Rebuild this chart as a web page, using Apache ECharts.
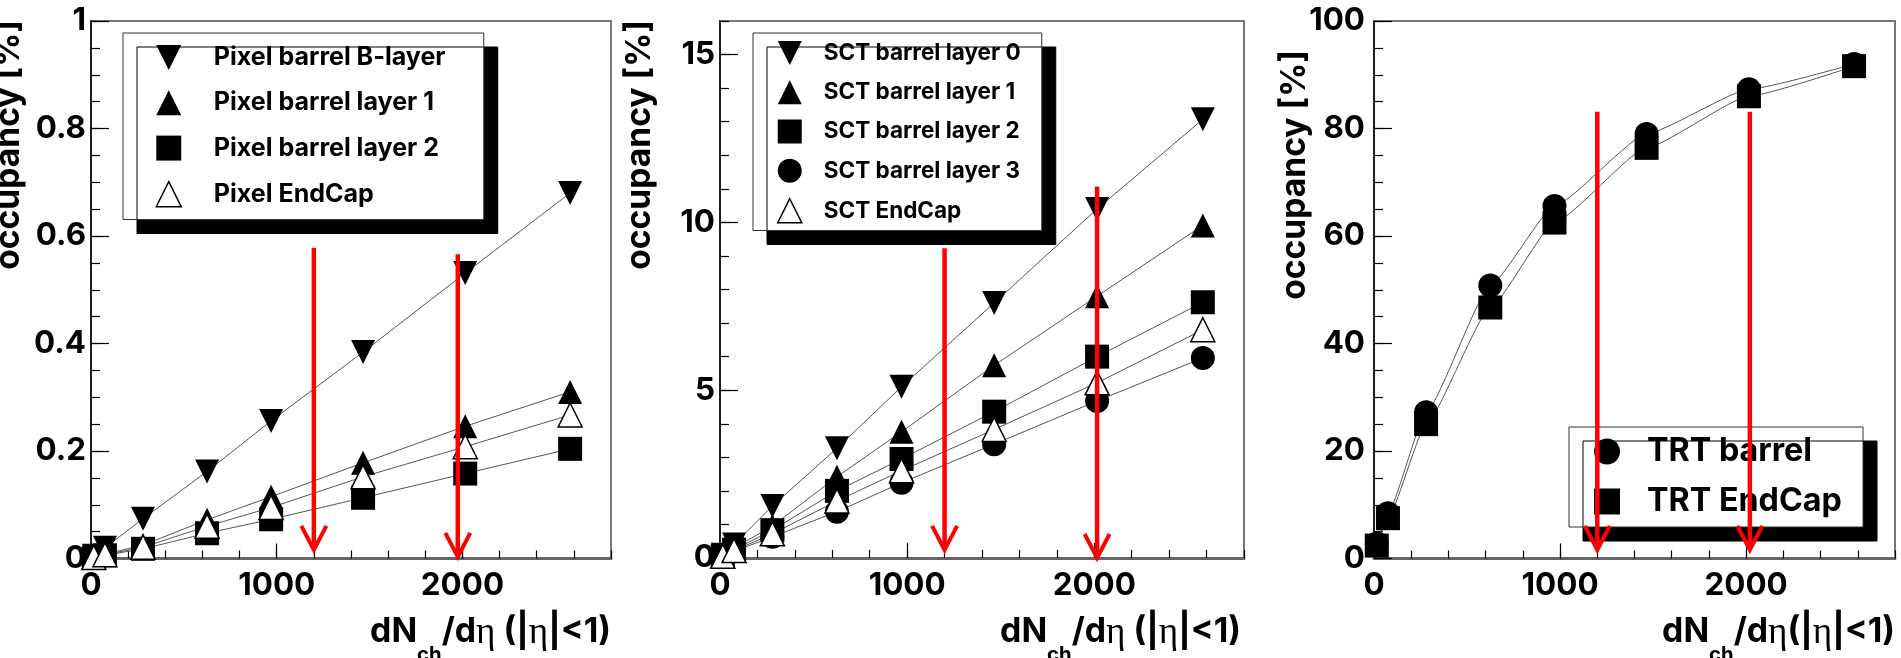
<!DOCTYPE html>
<html>
<head>
<meta charset="utf-8">
<script src="https://cdn.jsdelivr.net/npm/echarts@6/dist/echarts.min.js"></script>
<style>
  html, body { margin: 0; padding: 0; background: #fff; }
  #chart { width: 1901px; height: 658px; }
</style>
</head>
<body>
<div id="chart"></div>
<script>
// Charged-particle multiplicity samples (x positions shared by all detectors)
const dNch = [15, 75, 280, 625, 970, 1465, 2015, 2580];

// Pixel occupancy [%]
const pixelBLayer = [0.005, 0.02, 0.074, 0.162, 0.256, 0.384, 0.531, 0.68];
const pixelLayer1 = [0.002, 0.008, 0.025, 0.072, 0.115, 0.178, 0.246, 0.31];
const pixelLayer2 = [0.001, 0.006, 0.018, 0.047, 0.073, 0.113, 0.158, 0.204];
const pixelEndCap = [0.002, 0.007, 0.021, 0.06, 0.095, 0.152, 0.208, 0.267];

// SCT occupancy [%]
const sctLayer0 = [0.1, 0.4, 1.55, 3.27, 5.1, 7.6, 10.4, 13.07];
const sctLayer1 = [0.07, 0.3, 0.95, 2.42, 3.76, 5.74, 7.8, 9.91];
const sctLayer2 = [0.06, 0.25, 0.83, 2.0, 2.95, 4.36, 6.0, 7.62];
const sctLayer3 = [0.05, 0.2, 0.63, 1.38, 2.24, 3.39, 4.68, 5.96];
const sctEndCap = [0.05, 0.22, 0.72, 1.7, 2.6, 3.83, 5.22, 6.8];

// TRT occupancy [%]
const trtBarrel = [2.8, 8.4, 27.2, 50.8, 65.6, 79.0, 87.3, 92.0];
const trtEndCap = [2.4, 7.5, 25.0, 46.7, 62.5, 76.4, 86.0, 91.6];

// Marker arrows: [dNch/deta, arrow top, arrow tip]
const pixelArrows = [[1200, 0.578, 0.016], [1975, 0.566, 0.003]];
const sctArrows = [[1200, 9.23, 0.24], [2015, 11.07, 0.0]];
const trtArrows = [[1200, 83.1, 1.6], [2020, 83.1, 1.6]];

// Tick labels
const xTicks = [0, 1000, 2000];
const pixelYTicks = [0, 0.2, 0.4, 0.6, 0.8, 1];
const sctYTicks = [0, 5, 10, 15];
const trtYTicks = [0, 20, 40, 60, 80, 100];

const xMax = 2800;
const FONT = 'Inter';
const SERIF = 'Liberation Serif';
const FIT = '#555';
const RED = '#ff0000';

// text measuring, used to size fonts to a given printed width
const measureCtx = document.createElement('canvas').getContext('2d');
function textWidth(text, size, weight, family) {
  measureCtx.font = (weight || 'normal') + ' ' + size + 'px "' + family + '"';
  return measureCtx.measureText(text).width;
}
function fitSize(text, width, weight, family) {
  return 100 * width / textWidth(text, 100, weight, family);
}

const DOWN_TRI = 'path://M0,0L10,0L5,10Z';
const markers = {
  down:   { symbol: 'triangle', rotate: 180, icon: DOWN_TRI, style: { color: '#000' } },
  up:     { symbol: 'triangle', rotate: 0, icon: 'triangle', style: { color: '#000' } },
  square: { symbol: 'rect', rotate: 0, icon: 'rect', style: { color: '#000' } },
  circle: { symbol: 'circle', rotate: 0, icon: 'circle', style: { color: '#000' } },
  open:   { symbol: 'triangle', rotate: 0, icon: 'triangle', style: { color: '#fff', borderColor: '#000', borderWidth: 1.5 } }
};

const panels = [
  {
    grid: { left: 91, top: 21, width: 520, height: 537.5 },
    yMax: 1, yTicks: pixelYTicks, yMinor: 0.05, yLabelMargin: 5, smooth: false,
    arrows: pixelArrows,
    series: [
      { name: 'Pixel barrel B-layer', values: pixelBLayer, marker: 'down' },
      { name: 'Pixel barrel layer 1', values: pixelLayer1, marker: 'up' },
      { name: 'Pixel barrel layer 2', values: pixelLayer2, marker: 'square' },
      { name: 'Pixel EndCap', values: pixelEndCap, marker: 'open' }
    ],
    legend: { box: [123, 33, 483, 222], iconCenter: 168, iconSize: 25, textLeft: 213, textWidth: 232, firstRow: 58, pitch: 46.3 },
    yTitle: { x: 8.5, y: 20 },
    xTitle: { x: 611, text: '{b|dN}{s|ch}{b|/d}{g|η}{b| (|}{g|η}{b||<1)}' }
  },
  {
    grid: { left: 720, top: 21, width: 524, height: 537 },
    yMax: 16, yTicks: sctYTicks, yMinor: 1, yLabelMargin: 5, smooth: false,
    arrows: sctArrows,
    series: [
      { name: 'SCT barrel layer 0', values: sctLayer0, marker: 'down' },
      { name: 'SCT barrel layer 1', values: sctLayer1, marker: 'up' },
      { name: 'SCT barrel layer 2', values: sctLayer2, marker: 'square' },
      { name: 'SCT barrel layer 3', values: sctLayer3, marker: 'circle' },
      { name: 'SCT EndCap', values: sctEndCap, marker: 'open' }
    ],
    legend: { box: [753, 33, 1041, 229], iconCenter: 789, iconSize: 24, textLeft: 823, textWidth: 197, firstRow: 53, pitch: 39.25 },
    yTitle: { x: 640, y: 20 },
    xTitle: { x: 1241, text: '{b|dN}{s|ch}{b|/d}{g|η}{b| (|}{g|η}{b||<1)}' }
  },
  {
    grid: { left: 1374, top: 21, width: 521, height: 537.5 },
    yMax: 100, yTicks: trtYTicks, yMinor: 5, yLabelMargin: 9, smooth: 0.15,
    arrows: trtArrows,
    series: [
      { name: 'TRT barrel', values: trtBarrel, marker: 'circle' },
      { name: 'TRT EndCap', values: trtEndCap, marker: 'square' }
    ],
    legend: { box: [1569, 427, 1863, 529], iconCenter: 1607, iconSize: 26, textLeft: 1647, textWidth: 195, firstRow: 452, pitch: 51 },
    yTitle: { x: 1295, y: 50 },
    xTitle: { x: 1895, text: '{b|dN}{s|ch}{b|/d}{g|η}{b|(|}{g|η}{b||<1)}' }
  }
];

function tickFormatter(ticks) {
  return function (v) {
    return ticks.some(function (t) { return Math.abs(t - v) < 1e-9; }) ? String(+v.toFixed(6)) : '';
  };
}

// font sizes
const tickSize = fitSize('1000', 77, 'bold', FONT);
const yTitleSize = fitSize('occupancy [%]', 250, 'bold', FONT);
const xTitleBase = textWidth('dN', 30, 'bold', FONT) + textWidth('ch', 18, 'bold', FONT) +
  textWidth('/d', 30, 'bold', FONT) + 2 * textWidth('η', 33, 'normal', SERIF) +
  textWidth(' (|', 30, 'bold', FONT) + textWidth('|<1)', 30, 'bold', FONT);
const xk = 241 / xTitleBase;
const bSize = 30 * xk, sSize = 18 * xk, gSize = 33 * xk;
const bLH = Math.round(bSize * 1.1), sLH = Math.round(sSize * 1.1);
const xTitleTop = 633 - bLH / 2;
const subPad = Math.max(0, Math.round(655 - xTitleTop - sLH / 2));

const tickLine = { color: '#000', width: 1.2 };
const labelStyle = { fontSize: tickSize, fontWeight: 'bold', color: '#000', fontFamily: FONT };

const option = {
  animation: false,
  backgroundColor: '#fff',
  textStyle: { fontFamily: FONT },
  grid: [], xAxis: [], yAxis: [], series: [], legend: [], graphic: []
};

panels.forEach(function (p, gi) {
  option.grid.push(Object.assign({ show: true, borderColor: '#777', borderWidth: 2, backgroundColor: 'transparent' }, p.grid));

  const xMajor = option.xAxis.length;
  option.xAxis.push({
    gridIndex: gi, type: 'value', position: 'bottom', min: 0, max: xMax, interval: xTicks[1] - xTicks[0],
    axisLine: { show: true, onZero: false, lineStyle: { color: '#666', width: 3 } },
    axisTick: { show: true, inside: true, length: 15, lineStyle: tickLine },
    axisLabel: Object.assign({ margin: 12, showMaxLabel: false, formatter: tickFormatter(xTicks) }, labelStyle),
    splitLine: { show: false }
  });
  option.xAxis.push({
    gridIndex: gi, type: 'value', position: 'bottom', min: 0, max: xMax, interval: (xTicks[1] - xTicks[0]) / 5,
    axisLine: { show: false, onZero: false },
    axisTick: { show: true, inside: true, length: 8, lineStyle: tickLine },
    axisLabel: { show: false }, splitLine: { show: false }
  });

  const yMajor = option.yAxis.length;
  option.yAxis.push({
    gridIndex: gi, type: 'value', position: 'left', min: 0, max: p.yMax, interval: p.yTicks[1] - p.yTicks[0],
    axisLine: { show: true, onZero: false, lineStyle: { color: '#000', width: 1.5 } },
    axisTick: { show: true, inside: true, length: 18, lineStyle: tickLine },
    axisLabel: Object.assign({ margin: p.yLabelMargin, showMaxLabel: p.yMax === p.yTicks[p.yTicks.length - 1], formatter: tickFormatter(p.yTicks) }, labelStyle),
    splitLine: { show: false }
  });
  option.yAxis.push({
    gridIndex: gi, type: 'value', position: 'left', min: 0, max: p.yMax, interval: p.yMinor,
    axisLine: { show: false, onZero: false },
    axisTick: { show: true, inside: true, length: 9, lineStyle: tickLine },
    axisLabel: { show: false }, splitLine: { show: false }
  });

  // curves through each detector's points, beneath the markers
  p.series.forEach(function (s) {
    option.series.push({
      type: 'line', name: s.name + ' curve', xAxisIndex: xMajor, yAxisIndex: yMajor,
      data: dNch.map(function (x, i) { return [x, s.values[i]]; }),
      showSymbol: false, symbol: 'none', smooth: p.smooth, smoothMonotone: 'x',
      lineStyle: { color: FIT, width: 1 }, silent: true, z: 2
    });
  });
  p.series.forEach(function (s) {
    const m = markers[s.marker];
    option.series.push({
      type: 'scatter', name: s.name, xAxisIndex: xMajor, yAxisIndex: yMajor,
      data: dNch.map(function (x, i) { return [x, s.values[i]]; }),
      symbol: m.symbol, symbolRotate: m.rotate, symbolSize: 24,
      itemStyle: Object.assign({ opacity: 1 }, m.style), z: 3
    });
  });

  // red arrows
  option.series.push({
    type: 'custom', name: 'arrows ' + gi, xAxisIndex: xMajor, yAxisIndex: yMajor,
    data: p.arrows, z: 10, silent: true,
    renderItem: function (params, api) {
      const top = api.coord([api.value(0), api.value(1)]);
      const tip = api.coord([api.value(0), api.value(2)]);
      return {
        type: 'group',
        children: [
          { type: 'line', shape: { x1: top[0], y1: top[1], x2: tip[0], y2: tip[1] - 2 }, style: { stroke: RED, lineWidth: 4.5 } },
          { type: 'polyline', shape: { points: [[tip[0] - 12.5, tip[1] - 24], [tip[0], tip[1]], [tip[0] + 12.5, tip[1] - 24]] },
            style: { stroke: RED, lineWidth: 4, fill: null, lineJoin: 'miter' } }
        ]
      };
    }
  });

  // legend box laid out from its printed extent
  const L = p.legend;
  const names = p.series.map(function (s) { return s.name; });
  const fontSize = fitSize(names.reduce(function (a, b) { return textWidth(a, 10, 'bold', FONT) >= textWidth(b, 10, 'bold', FONT) ? a : b; }), L.textWidth, 'bold', FONT);
  const maxW = Math.max.apply(null, names.map(function (n) { return textWidth(n, fontSize, 'bold', FONT); }));
  const itemH = Math.max(L.iconSize, Math.ceil(fontSize));
  const lastRow = L.firstRow + L.pitch * (names.length - 1);
  const iconLeft = L.iconCenter - L.iconSize / 2;
  const textPad = L.textLeft - (iconLeft + L.iconSize + 5);
  const padLeft = iconLeft - L.box[0];
  const padRight = Math.max(0, L.box[2] - (L.textLeft + maxW));
  const padTop = L.firstRow - itemH / 2 - L.box[1];
  const padBottom = L.box[3] - (lastRow + itemH / 2);
  option.legend.push({
    orient: 'vertical', left: L.box[0], top: L.box[1], padding: [padTop, padRight, padBottom, padLeft],
    itemWidth: L.iconSize, itemHeight: L.iconSize, itemGap: L.pitch - itemH,
    backgroundColor: '#fff', borderColor: '#333', borderWidth: 1,
    shadowColor: '#000', shadowBlur: 0, shadowOffsetX: 14, shadowOffsetY: 14,
    selectedMode: false,
    textStyle: { fontSize: fontSize, fontWeight: 'bold', fontFamily: FONT, color: '#000', padding: [0, 0, 0, textPad] },
    data: p.series.map(function (s) {
      const m = markers[s.marker];
      return { name: s.name, icon: m.icon, itemStyle: Object.assign({ borderWidth: 0 }, m.style) };
    })
  });

  option.graphic.push({
    type: 'text', x: p.yTitle.x, y: p.yTitle.y, rotation: Math.PI / 2,
    style: { text: 'occupancy [%]', fontSize: yTitleSize, fontWeight: 'bold', fontFamily: FONT, fill: '#000', align: 'right', verticalAlign: 'middle' }
  });
  option.graphic.push({
    type: 'text', x: p.xTitle.x, y: xTitleTop,
    style: {
      text: p.xTitle.text, align: 'right', verticalAlign: 'top', fill: '#000',
      rich: {
        b: { fontFamily: FONT, fontWeight: 'bold', fontSize: bSize, lineHeight: bLH, verticalAlign: 'top', fill: '#000' },
        s: { fontFamily: FONT, fontWeight: 'bold', fontSize: sSize, lineHeight: sLH, padding: [subPad, 0, 0, 0], verticalAlign: 'top', fill: '#000' },
        g: { fontFamily: SERIF, fontSize: gSize, lineHeight: bLH, verticalAlign: 'top', fill: '#000' }
      }
    }
  });
});

const chart = echarts.init(document.getElementById('chart'), null, { renderer: 'canvas' });
chart.setOption(option);
</script>
</body>
</html>
